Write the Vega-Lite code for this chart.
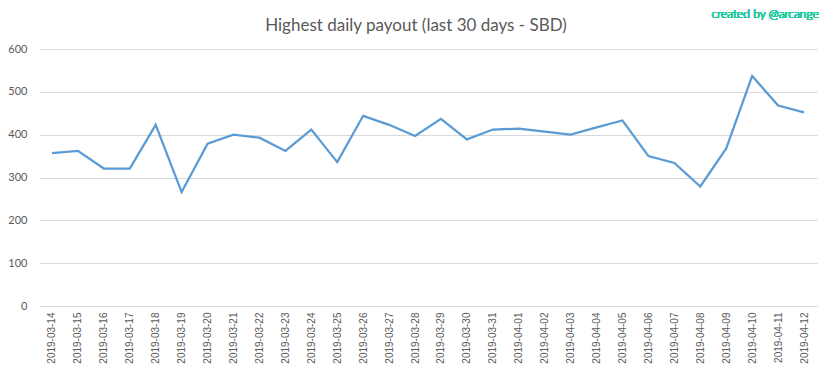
{
  "$schema": "https://vega.github.io/schema/vega-lite/v6.json",
  "autosize": {"type": "none"},
  "padding": {"left": 39, "top": 49, "right": 16, "bottom": 73},
  "width": 778,
  "height": 257,
  "background": "white",
  "config": {"view": {"stroke": null}, "font": "Lato"},
  "title": {
    "text": "Highest daily payout (last 30 days - SBD)",
    "font": "Lato",
    "fontSize": 17,
    "fontWeight": "normal",
    "color": "#595959",
    "anchor": "middle",
    "baseline": "alphabetic",
    "dx": -12,
    "offset": -40
  },
  "data": {"values": [
    {"date": "2019-03-14", "payout": 357},
    {"date": "2019-03-15", "payout": 362},
    {"date": "2019-03-16", "payout": 321},
    {"date": "2019-03-17", "payout": 321},
    {"date": "2019-03-18", "payout": 423},
    {"date": "2019-03-19", "payout": 266},
    {"date": "2019-03-20", "payout": 379},
    {"date": "2019-03-21", "payout": 400},
    {"date": "2019-03-22", "payout": 393},
    {"date": "2019-03-23", "payout": 362},
    {"date": "2019-03-24", "payout": 412},
    {"date": "2019-03-25", "payout": 336},
    {"date": "2019-03-26", "payout": 444},
    {"date": "2019-03-27", "payout": 423},
    {"date": "2019-03-28", "payout": 397},
    {"date": "2019-03-29", "payout": 437},
    {"date": "2019-03-30", "payout": 389},
    {"date": "2019-03-31", "payout": 412},
    {"date": "2019-04-01", "payout": 414},
    {"date": "2019-04-02", "payout": 407},
    {"date": "2019-04-03", "payout": 400},
    {"date": "2019-04-04", "payout": 417},
    {"date": "2019-04-05", "payout": 433},
    {"date": "2019-04-06", "payout": 350},
    {"date": "2019-04-07", "payout": 334},
    {"date": "2019-04-08", "payout": 279},
    {"date": "2019-04-09", "payout": 368},
    {"date": "2019-04-10", "payout": 537},
    {"date": "2019-04-11", "payout": 468},
    {"date": "2019-04-12", "payout": 452}
  ]},
  "layer": [
    {
      "mark": {"type": "line", "color": "#5b9bd5", "strokeWidth": 2.25},
      "encoding": {
        "x": {
          "field": "date", "type": "ordinal",
          "scale": {"type": "point", "padding": 0.5},
          "axis": {
            "title": null, "labelAngle": -90, "labelFontSize": 10, "labelColor": "#595959",
            "labelFont": "Liberation Sans", "ticks": false, "domainColor": "#d9d9d9", "labelPadding": 6,
            "grid": false
          }
        },
        "y": {
          "field": "payout", "type": "quantitative",
          "scale": {"domain": [0, 600]},
          "axis": {
            "title": null, "values": [0, 100, 200, 300, 400, 500, 600], "labelFontSize": 11,
            "labelColor": "#595959", "ticks": false, "domain": false, "gridColor": "#d9d9d9",
            "labelPadding": 12
          }
        }
      }
    },
    {
      "mark": {"type": "text", "color": "#22cc9e", "fontSize": 12, "font": "Lato", "fontWeight": 300, "align": "center", "dx": -13},
      "encoding": {
        "x": {"datum": "2019-04-11", "type": "ordinal"},
        "y": {"datum": 682, "type": "quantitative"},
        "text": {"value": "created by @arcange"}
      }
    }
  ]
}
